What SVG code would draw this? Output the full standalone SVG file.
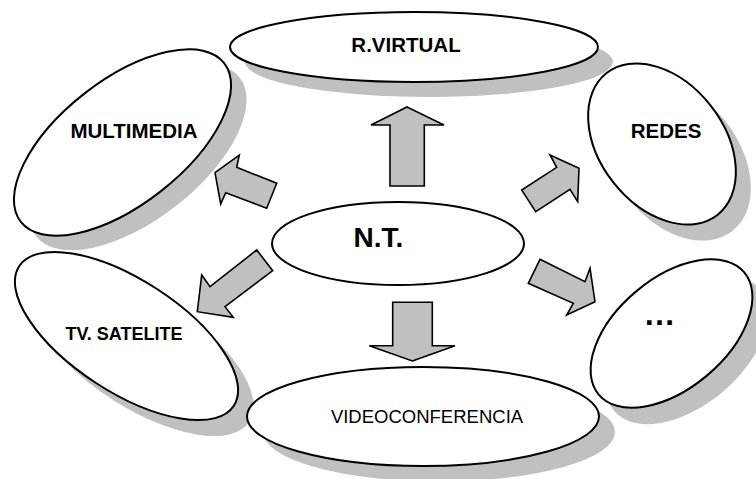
<svg xmlns="http://www.w3.org/2000/svg" width="756" height="479" viewBox="0 0 756 479">
<style>
.sh{fill:#c0c0c0;stroke:none}
.el{fill:#fff;stroke:#000;stroke-width:2}
.ar{fill:#c0c0c0;stroke:#000;stroke-width:1.6;stroke-linejoin:miter}
.t{font-family:"Liberation Sans",Arial,sans-serif;fill:#000;text-anchor:middle}
.b{font-weight:bold}
</style>
<rect width="756" height="479" fill="#fff"/>
<g id="shadows">
<ellipse class="sh" cx="429" cy="62" rx="184" ry="35"/>
<ellipse class="sh" cx="0" cy="0" rx="129" ry="62" transform="translate(138,157) rotate(-38)"/>
<ellipse class="sh" cx="0" cy="0" rx="90" ry="62" transform="translate(677,160) rotate(52)"/>
<ellipse class="sh" cx="0" cy="0" rx="128" ry="56" transform="translate(142,352) rotate(33)"/>
<ellipse class="sh" cx="0" cy="0" rx="95" ry="55" transform="translate(687,350) rotate(-40)"/>
<ellipse class="sh" cx="439" cy="432" rx="176" ry="49.5"/>
</g>
<g id="n-rvirtual">
<ellipse class="el" cx="414" cy="47" rx="184" ry="35"/>
<text class="t b" x="406" y="52" font-size="20.5">R.VIRTUAL</text>
</g>
<g id="n-multimedia">
<ellipse class="el" cx="0" cy="0" rx="129" ry="62" transform="translate(122.5,142.5) rotate(-38)"/>
<text class="t b" x="134" y="138" font-size="20.5">MULTIMEDIA</text>
</g>
<g id="n-redes">
<ellipse class="el" cx="0" cy="0" rx="90" ry="62" transform="translate(662,144) rotate(52)"/>
<text class="t b" x="666" y="138" font-size="20.5">REDES</text>
</g>
<g id="n-tv">
<ellipse class="el" cx="0" cy="0" rx="128" ry="56" transform="translate(126.5,336) rotate(33)"/>
<text class="t b" x="124" y="340" font-size="18">TV. SATELITE</text>
</g>
<g id="n-etc">
<ellipse class="el" cx="0" cy="0" rx="95" ry="55" transform="translate(671.5,333.5) rotate(-40)"/>
<text class="t b" x="659.5" y="325" font-size="32">…</text>
</g>
<g id="n-video">
<ellipse class="el" cx="423" cy="416.5" rx="176" ry="49.5"/>
<text class="t" x="427" y="423" font-size="18.5">VIDEOCONFERENCIA</text>
</g>
<g id="n-nt">
<ellipse class="el" cx="398" cy="243.5" rx="126" ry="41.5"/>
<text class="t b" x="378.5" y="247" font-size="28">N.T.</text>
</g>
<g id="connectors">
<polygon class="ar" points="407,107 444,125 424.3,125 424.3,186 390,186 390,125 371,125"/>
<polygon class="ar" points="412.3,361 455,345.7 432.3,345.7 432.3,302.3 392.7,302.3 392.7,345.7 369.3,345.7"/>
<polygon class="ar" points="215,172.7 239.3,155 236.7,167.3 276.7,183.3 266.7,208.3 225.7,192.7 220.7,204"/>
<polygon class="ar" points="579,168.3 550,155 556.7,167.3 521.7,190 535.7,211.7 570,189.3 577.7,201.7"/>
<polygon class="ar" points="197.3,311.7 201.7,275 210,286.7 256.7,250 272.7,270.7 225,306.7 233.3,317.3"/>
<polygon class="ar" points="540,259.3 585,281.7 590,268.3 595,301.7 566.7,315 573.3,303.3 528.3,283.3"/>
</g>
</svg>
